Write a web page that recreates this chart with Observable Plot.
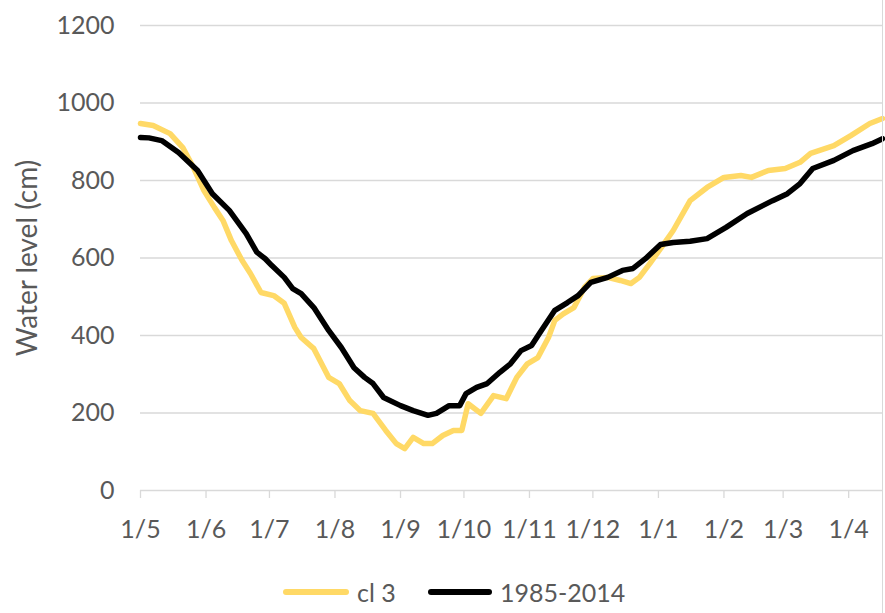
<!DOCTYPE html>
<html>
<head>
<meta charset="utf-8">
<script src="https://cdn.jsdelivr.net/npm/d3@7"></script>
<script src="https://cdn.jsdelivr.net/npm/@observablehq/plot@0.6"></script>
<style>
  html, body { margin: 0; padding: 0; background: #fff; }
  #wrap { position: relative; width: 885px; height: 613px; overflow: hidden; font-family: Lato, "Open Sans", sans-serif; }
  #border { position: absolute; left: 882px; top: 0; width: 1px; height: 613px; background: #d9d9d9; }
  .leg { position: absolute; top: 574px; display: flex; align-items: center; color: #595959; font-size: 25px; line-height: 36px; }
  .sw { display: inline-block; height: 6px; border-radius: 3px; margin-right: 8px; }
</style>
</head>
<body>
<div id="wrap">
  <div id="chart"></div>
  <div id="border"></div>
  <div id="legend"></div>
</div>
<script>
// x tick positions (first of each month) and their labels
const monthTicks = ["2001-05-01","2001-06-01","2001-07-01","2001-08-01","2001-09-01","2001-10-01",
                    "2001-11-01","2001-12-01","2002-01-01","2002-02-01","2002-03-01","2002-04-01"];
const monthLabels = ["1/5","1/6","1/7","1/8","1/9","1/10","1/11","1/12","1/1","1/2","1/3","1/4"];
const yTicks = [0, 200, 400, 600, 800, 1000, 1200];

// series "cl 3"
const cl3Dates = ["2001-05-01","2001-05-07","2001-05-15","2001-05-21","2001-05-26","2001-05-31",
  "2001-06-05","2001-06-09","2001-06-13","2001-06-18","2001-06-22","2001-06-27","2001-07-03",
  "2001-07-08","2001-07-13","2001-07-16","2001-07-22","2001-07-29","2001-08-03","2001-08-08",
  "2001-08-13","2001-08-19","2001-08-25","2001-08-30","2001-09-03","2001-09-07","2001-09-12",
  "2001-09-16","2001-09-21","2001-09-26","2001-09-30","2001-10-03","2001-10-09","2001-10-15",
  "2001-10-21","2001-10-26","2001-10-31","2001-11-05","2001-11-10","2001-11-13","2001-11-17",
  "2001-11-22","2001-11-27","2001-12-01","2001-12-08","2001-12-14","2001-12-19","2001-12-23",
  "2001-12-28","2002-01-03","2002-01-08","2002-01-16","2002-01-24","2002-02-01","2002-02-09",
  "2002-02-14","2002-02-22","2002-03-02","2002-03-09","2002-03-14","2002-03-25","2002-04-02",
  "2002-04-11","2002-04-17"];
const cl3Values = [947,942,921,885,834,774,
  730,697,645,594,560,511,503,
  483,421,395,366,292,276,232,
  206,199,155,121,108,137,121,
  121,142,155,155,224,199,245,
  237,292,327,343,395,439,456,
  472,524,547,550,542,534,550,
  586,632,671,748,782,808,813,
  808,826,831,847,870,890,916,
  947,960];

// series "1985-2014"
const refDates = ["2001-05-01","2001-05-05","2001-05-11","2001-05-19","2001-05-28","2001-06-04",
  "2001-06-12","2001-06-20","2001-06-25","2001-06-29","2001-07-02","2001-07-08","2001-07-12",
  "2001-07-16","2001-07-22","2001-07-29","2001-08-04","2001-08-10","2001-08-15","2001-08-19",
  "2001-08-24","2001-09-01","2001-09-07","2001-09-14","2001-09-18","2001-09-24","2001-09-29",
  "2001-10-02","2001-10-07","2001-10-12","2001-10-18","2001-10-23","2001-10-28","2001-11-02",
  "2001-11-06","2001-11-13","2001-11-19","2001-11-24","2001-11-30","2001-12-08","2001-12-15",
  "2001-12-20","2001-12-26","2002-01-02","2002-01-08","2002-01-16","2002-01-24","2002-02-02",
  "2002-02-12","2002-02-24","2002-03-03","2002-03-09","2002-03-15","2002-03-25","2002-04-03",
  "2002-04-12","2002-04-17"];
const refValues = [911,910,903,872,826,766,
  723,663,615,598,581,550,521,
  508,472,413,369,317,292,276,
  240,219,206,194,199,219,219,
  250,266,276,305,327,361,374,
  408,465,485,503,537,550,568,
  573,599,635,640,643,650,679,
  715,748,766,792,831,852,877,
  895,908];

const cl3Rows = cl3Dates.map((d, i) => ({date: new Date(d), value: cl3Values[i]}));
const refRows = refDates.map((d, i) => ({date: new Date(d), value: refValues[i]}));
const tickDates = monthTicks.map(d => new Date(d));
const labelMap = new Map(tickDates.map((d, i) => [+d, monthLabels[i]]));

const chart = Plot.plot({
  width: 885,
  height: 555,
  marginLeft: 140,
  marginRight: 3,
  marginTop: 25,
  marginBottom: 65,
  style: {fontFamily: "Lato, 'Open Sans', sans-serif", fontSize: "25px", color: "#595959", background: "#fff"},
  x: {type: "utc", domain: [new Date("2001-05-01"), new Date("2002-04-17")]},
  y: {domain: [0, 1200]},
  marks: [
    Plot.ruleY(yTicks, {stroke: "#d9d9d9", strokeWidth: 1.3}),
    Plot.axisY({ticks: yTicks, tickFormat: d => String(d), tickSize: 0, tickPadding: 26, label: null, fill: "#595959", fontSize: 25}),
    Plot.axisX({ticks: tickDates, tickFormat: d => labelMap.get(+d), tickSize: 8, tickPadding: 22,
                stroke: "#d9d9d9", strokeWidth: 1.3, fill: "#595959", label: null, fontSize: 25}),
    Plot.line(cl3Rows, {x: "date", y: "value", stroke: "#ffd966", strokeWidth: 5.5}),
    Plot.line(refRows, {x: "date", y: "value", stroke: "#000000", strokeWidth: 5.5}),
    Plot.text(["Water level (cm)"], {frameAnchor: "left", dx: -112, rotate: -90, textAnchor: "middle",
                                     fontSize: 28, fill: "#595959"})
  ]
});
document.getElementById("chart").appendChild(chart);

const legendItems = [
  {label: "cl 3", color: "#ffd966", left: 283, sw: 66},
  {label: "1985-2014", color: "#000000", left: 428, sw: 64}
];
const legend = document.getElementById("legend");
for (const it of legendItems) {
  const el = document.createElement("div");
  el.className = "leg";
  el.style.left = it.left + "px";
  const sw = document.createElement("span");
  sw.className = "sw";
  sw.style.width = it.sw + "px";
  sw.style.background = it.color;
  el.appendChild(sw);
  el.appendChild(document.createTextNode(it.label));
  legend.appendChild(el);
}
</script>
</body>
</html>
